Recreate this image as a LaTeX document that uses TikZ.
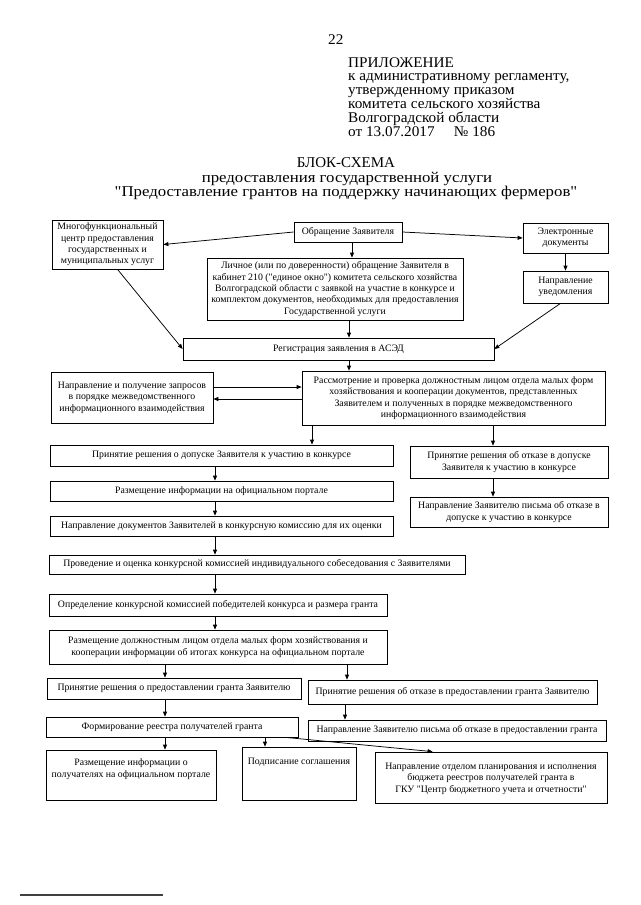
\documentclass[tikz,border=0pt]{standalone}
\usepackage{fontspec}
\setmainfont{Liberation Serif}
\newfontfamily\qfam{Liberation Serif}
\newfontfamily\widefam{Liberation Serif}[FakeStretch=1.12]
\newfontfamily\hdrfam{Liberation Serif}[FakeStretch=1.03]
\usetikzlibrary{arrows.meta}
\newcommand{\bfont}{\fontsize{9.8}{11.4}\selectfont}
\newcommand{\hfont}{\hdrfam\fontsize{14.8}{13.8}\selectfont}
\newcommand{\q}{{\qfam\symbol{34}}}
\newcommand{\bx}[7][]{%
  \node[box,minimum width={(#5-#3)*1pt},minimum height={(#6-#4)*1pt},#1] (#2) at ({(#3+#5)/2},{(#4+#6)/2}) {#7};}
\begin{document}
\begin{tikzpicture}[x=1pt,y=-1pt,
  box/.style={draw=black, line width=0.75pt, inner sep=1pt, align=center, font=\bfont},
  arr/.style={draw=black, line width=0.75pt, -{Triangle[length=5pt,width=4pt]}},
  txt/.style={inner sep=0pt, font=\hfont}]
\fill[white] (0,0) rectangle (640,905);
\useasboundingbox (0,0) rectangle (640,905);
% header
\node[txt, anchor=west] (pg) at (328,40) {22};
\node[txt, anchor=north west, align=left] (hdr) at (348,57) {ПРИЛОЖЕНИЕ\\к административному регламенту,\\утвержденному приказом\\комитета сельского хозяйства\\Волгоградской области\\от 13.07.2017\hspace{1.3em}№ 186};
% title
\node[inner sep=0pt, font=\fontsize{15}{14}\selectfont] (t1) at (346,162.5) {БЛОК-СХЕМА};
\node[inner sep=0pt, font=\widefam\fontsize{15}{14}\selectfont] (t2) at (347,178.5) {предоставления государственной услуги};
\node[inner sep=0pt, font=\widefam\fontsize{15}{14}\selectfont] (t3) at (346,192.5) {"Предоставление грантов на поддержку начинающих фермеров"};
% coordinates for aligned connectors
\coordinate (c312) at (312,0);
\coordinate (c493) at (493,0);
\coordinate (c352) at (352,0);
\coordinate (c349) at (349,0);
\coordinate (c215) at (215,0);
\coordinate (c165) at (165,0);
\coordinate (c347) at (347,0);
\coordinate (c345) at (345,0);
\coordinate (c265) at (265,0);
% boxes
\bx{mfc}{52}{220}{163}{269}{Многофункциональный\\центр предоставления\\государственных и\\муниципальных услуг}
\bx{obr}{294}{222}{402}{242}{Обращение Заявителя}
\bx{elec}{523}{223}{608}{253}{Электронные\\документы}
\bx{uv}{523}{271}{608}{303}{Направление\\уведомления}
\bx{lich}{207}{258}{463}{320}{Личное (или по доверенности) обращение Заявителя в\\кабинет 210 (\q единое окно\q) комитета сельского хозяйства\\Волгоградской области с заявкой на участие в конкурсе и\\комплектом документов, необходимых для предоставления\\Государственной услуги}
\bx{reg}{183}{338}{494}{360}{Регистрация заявления в АСЭД}
\bx{zap}{51}{372}{213}{423}{Направление и получение запросов\\в порядке межведомственного\\информационного взаимодействия}
\bx{rasm}{302}{371}{605}{425}{Рассмотрение и проверка должностным лицом отдела малых форм\\хозяйствования и кооперации документов, представленных\\Заявителем и полученных в порядке межведомственного\\информационного взаимодействия}
\bx{pa}{50}{445}{393}{466}{Принятие решения о допуске Заявителя к участию в конкурсе}
\bx{oa}{410}{446}{608}{478}{Принятие решения об отказе в допуске\\Заявителя к участию в конкурсе}
\bx{razm}{50}{481}{393}{501}{Размещение информации на официальном портале}
\bx{ob}{410}{497}{608}{527}{Направление Заявителю письма об отказе в\\допуске к участию в конкурсе}
\bx{napr}{50}{516}{393}{536}{Направление документов Заявителей в конкурсную комиссию для их оценки}
\bx{prov}{49}{555}{465}{574}{Проведение и оценка конкурсной комиссией индивидуального собеседования с Заявителями}
\bx{opr}{49}{594}{387}{616}{Определение конкурсной комиссией победителей конкурса и размера гранта}
\bx{itog}{49}{630}{387}{664}{Размещение должностным лицом отдела малых форм хозяйствования и\\кооперации информации об итогах конкурса на официальном портале}
\bx{pb}{47}{678}{301}{699}{Принятие решения о предоставлении гранта Заявителю}
\bx{oc}{308}{680}{597}{704}{Принятие решения об отказе в предоставлении гранта Заявителю}
\bx{form}{46}{717}{298}{737}{Формирование реестра получателей гранта}
\bx{od}{308}{720}{606}{741}{Направление Заявителю письма об отказе в предоставлении гранта}
\bx{pol}{46}{750}{216}{800}{}
\bx{sog}{242}{747}{356}{800}{}
\bx{otd}{375}{752}{607}{803}{}
\node[box, draw=none, anchor=north] (polt) at ([yshift=-8pt]pol.north) {Размещение информации о\\получателях на официальном портале};
\node[box, draw=none, anchor=north] (sogt) at ([yshift=-10pt]sog.north) {Подписание соглашения};
\node[box, draw=none, anchor=north] (otdt) at ([yshift=-10pt]otd.north) {Направление отделом планирования и исполнения\\бюджета реестров получателей гранта в\\ГКУ \q Центр бюджетного учета и отчетности\q};
% connectors
\draw[arr] (obr.west) -- (mfc.east);
\draw[arr] (obr.east) -- (elec.west);
\draw[arr] (obr.south -| c352) -- (lich.north -| c352);
\draw[arr] (elec.south) -- (uv.north);
\draw[arr] ([xshift=10pt]mfc.south) -- (reg.west);
\draw[arr] ([xshift=-5pt]uv.south) -- (reg.east);
\draw[arr] (lich.south -| c349) -- (reg.north -| c349);
\draw[arr] (reg.south -| c349) -- (rasm.north -| c349);
\draw[arr] ([yshift=10.5pt]zap.east) -- ([yshift=11pt]rasm.west);
\draw[arr] ([yshift=-1pt]rasm.west) -- ([yshift=-1.5pt]zap.east);
\draw[arr] (rasm.south -| c312) -- (pa.north -| c312);
\draw[arr] (rasm.south -| c493) -- (oa.north -| c493);
\draw[arr] (pa.south -| c215) -- (razm.north -| c215);
\draw[arr] (oa.south -| c493) -- (ob.north -| c493);
\draw[arr] (razm.south -| c215) -- (napr.north -| c215);
\draw[arr] (napr.south -| c215) -- (prov.north -| c215);
\draw[arr] (prov.south -| c215) -- (opr.north -| c215);
\draw[arr] (opr.south -| c215) -- (itog.north -| c215);
\draw[arr] (itog.south -| c165) -- (pb.north -| c165);
\draw[arr] (itog.south -| c347) -- (oc.north -| c347);
\draw[arr] (pb.south -| c165) -- (form.north -| c165);
\draw[arr] (oc.south -| c345) -- (od.north -| c345);
\draw[arr] (form.south -| c165) -- (pol.north -| c165);
\draw[arr] (form.south -| c265) -- (sog.north -| c265);
\draw[arr] ([xshift=-13pt]form.south east) -- ([xshift=58pt]otd.north west);
% footer rule
\draw[line width=1.2pt, black!75] (20,895) -- (163,895);
\end{tikzpicture}
\end{document}
